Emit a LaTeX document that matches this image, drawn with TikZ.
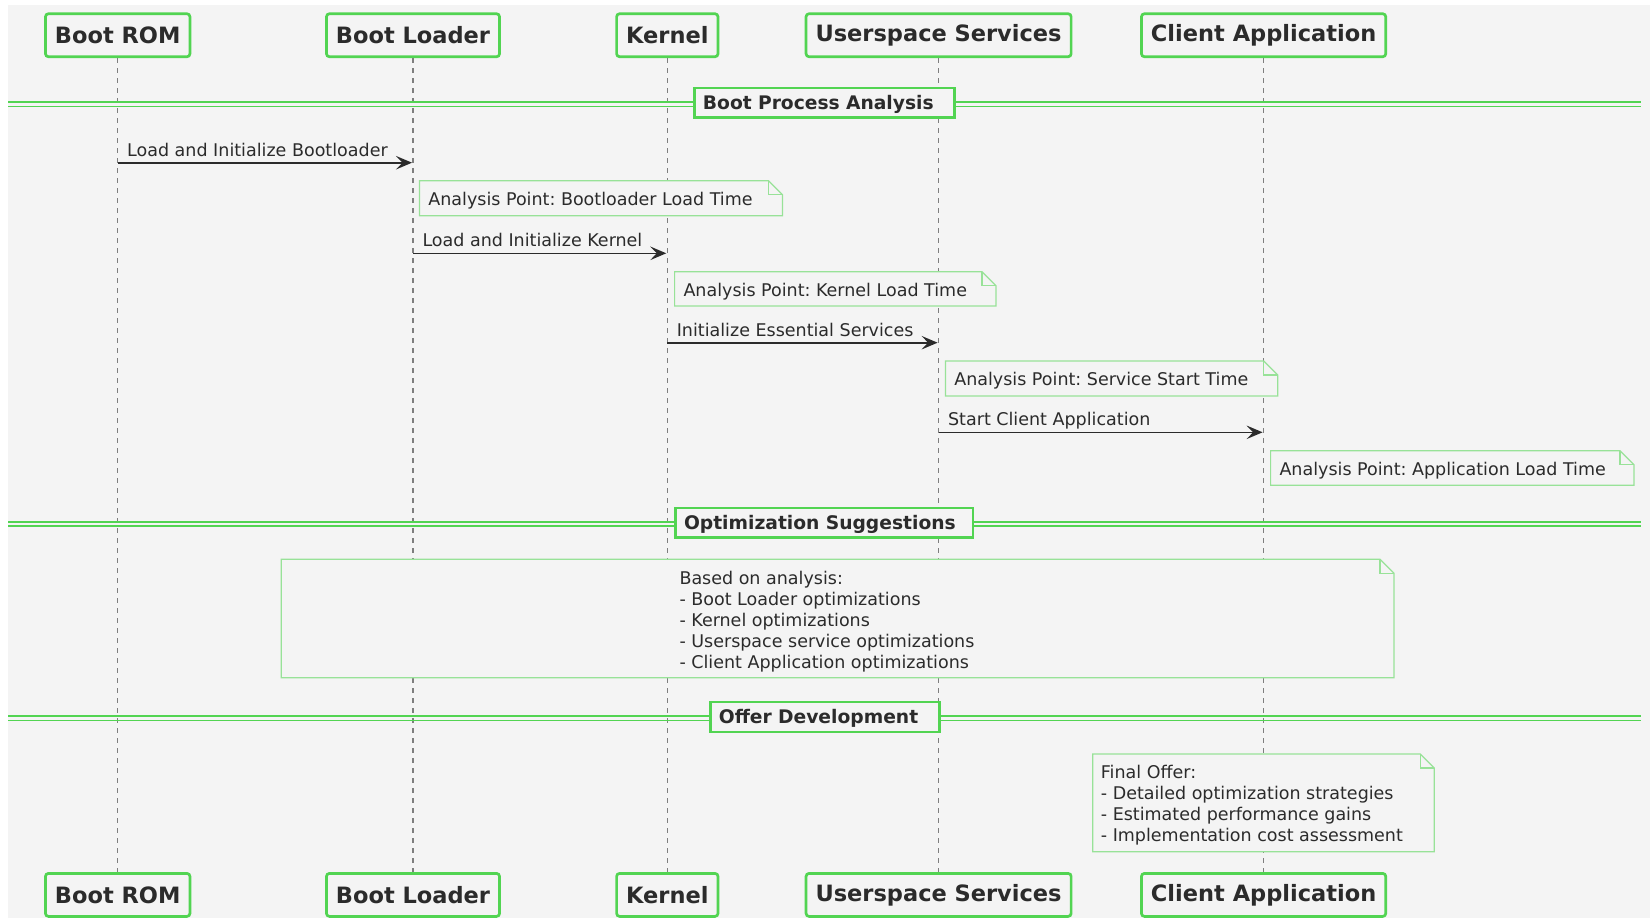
\documentclass[tikz,border=0pt]{standalone}
\usepackage{fontspec}
\setmainfont{DejaVu Sans}
\frenchspacing
\usetikzlibrary{arrows.meta}
\definecolor{bg}{HTML}{F4F4F4}
\definecolor{grn}{HTML}{52D452}
\definecolor{notegrn}{HTML}{98E298}
\definecolor{txt}{HTML}{2B2B2B}
\definecolor{lifegray}{HTML}{7E7E7E}
\tikzset{
  part/.style={draw=grn, line width=2.7pt, fill=bg, rounded corners=3pt, minimum height=43pt,
    inner xsep=9.5pt, inner ysep=0pt, font=\fontsize{22.5}{27}\selectfont\bfseries, text=txt},
  divbox/.style={draw=grn, line width=2.7pt, fill=bg, minimum height=29.8pt, inner xsep=8.7pt,
    inner ysep=0pt, align=left, text height=13.6pt, text depth=0pt,
    font=\fontsize{18.7}{22}\selectfont\bfseries, text=txt},
  divline/.style={draw=grn, line width=1.5pt},
  lifeline/.style={draw=lifegray, line width=1.1pt, dash pattern=on 5pt off 5pt},
  msg/.style={draw=txt, line width=1.6pt, shorten >=1pt, -{Stealth[length=16pt,width=13.5pt,inset=6.5pt]}},
  msgtext/.style={font=\fontsize{17.5}{21}\selectfont, text=txt, anchor=base west, inner sep=0pt},
  noteshape/.style={draw=notegrn, line width=1.2pt, fill=bg},
  notetext/.style={font=\fontsize{17.5}{21}\selectfont, text=txt, anchor=base west, inner sep=0pt},
}
\newcommand{\notebox}[4]{% x1 y1 x2 y2
  \draw[noteshape] (#1,#2) -- (#3-14,#2) -- (#3,#2+14) -- (#3,#4) -- (#1,#4) -- cycle;
  \draw[noteshape, fill=none] (#3-14,#2) -- (#3-14,#2+14) -- (#3,#2+14);
}
\begin{document}
\begin{tikzpicture}[x=1pt,y=-1pt]
\useasboundingbox (0,0) rectangle (1650,918);
\fill[white] (0,0) rectangle (1650,918);
\fill[bg] (8,5) rectangle (1650,918);

% participants
\foreach \n/\x/\t in {rom/117.7/Boot ROM, bl/413/Boot Loader, ker/667.3/Kernel, us/938.6/Userspace Services, ca/1263.6/Client Application}{
  \node[part] (\n) at (\x,35.25) {\t};
  \node[part] (\n2) at (\x,894.9) {\t};
  \draw[lifeline] (\n.south) -- (\n2.north);
}

% dividers
\draw[divline] (8,101.9) -- (1640.5,101.9);
\draw[divline] (8,106.3) -- (1640.5,106.3);
\node[divbox, text width=243.1pt] (d1) at (824.5,102.9) {Boot Process Analysis};

\draw[divline] (8,521.8) -- (1640.5,521.8);
\draw[divline] (8,526.2) -- (1640.5,526.2);
\node[divbox, text width=280.4pt] (d2) at (824.2,522.8) {Optimization Suggestions};

\draw[divline] (8,716.0) -- (1640.5,716.0);
\draw[divline] (8,720.4) -- (1640.5,720.4);
\node[divbox, text width=211.8pt] (d3) at (824.8,717) {Offer Development};

% messages
\draw[msg] (rom.south |- 0,162.7) -- (bl.south |- 0,162.7);
\node[msgtext] (t1) at (127,156) {Load and Initialize Bootloader};
\notebox{419.5}{180.7}{782.5}{215.7}
\node[notetext] (n1) at (428.2,205) {Analysis Point: Bootloader Load Time};

\draw[msg] (bl.south |- 0,253.3) -- (ker.south |- 0,253.3);
\node[msgtext] (t2) at (422.3,246.6) {Load and Initialize Kernel};
\notebox{674.6}{271.7}{996}{306}
\node[notetext] (n2) at (683.3,296) {Analysis Point: Kernel Load Time};

\draw[msg] (ker.south |- 0,342.7) -- (us.south |- 0,342.7);
\node[msgtext] (t3) at (676.6,336) {Initialize Essential Services};
\notebox{945.4}{361}{1277.8}{396}
\node[notetext] (n3) at (954.1,385.3) {Analysis Point: Service Start Time};

\draw[msg] (us.south |- 0,432.3) -- (ca.south |- 0,432.3);
\node[msgtext] (t4) at (947.9,425.6) {Start Client Application};
\notebox{1270.6}{450.7}{1634}{485.3}
\node[notetext] (n4) at (1279.3,475) {Analysis Point: Application Load Time};

% optimization note
\notebox{281.3}{559.3}{1394}{677.7}
\node[notetext] (n5a) at (679.3,584.5) {Based on analysis:};
\node[notetext] (n5b) at (679.3,605.5) {- Boot Loader optimizations};
\node[notetext] (n5c) at (679.3,626.5) {- Kernel optimizations};
\node[notetext] (n5d) at (679.3,647.5) {- Userspace service optimizations};
\node[notetext] (n5e) at (679.3,668.5) {- Client Application optimizations};

% final offer note
\notebox{1092.7}{754}{1434.3}{851.7}
\node[notetext] (n6a) at (1100.7,778.3) {Final Offer:};
\node[notetext] (n6b) at (1100.7,799.3) {- Detailed optimization strategies};
\node[notetext] (n6c) at (1100.7,820.3) {- Estimated performance gains};
\node[notetext] (n6d) at (1100.7,841.3) {- Implementation cost assessment};
\end{tikzpicture}
\end{document}
